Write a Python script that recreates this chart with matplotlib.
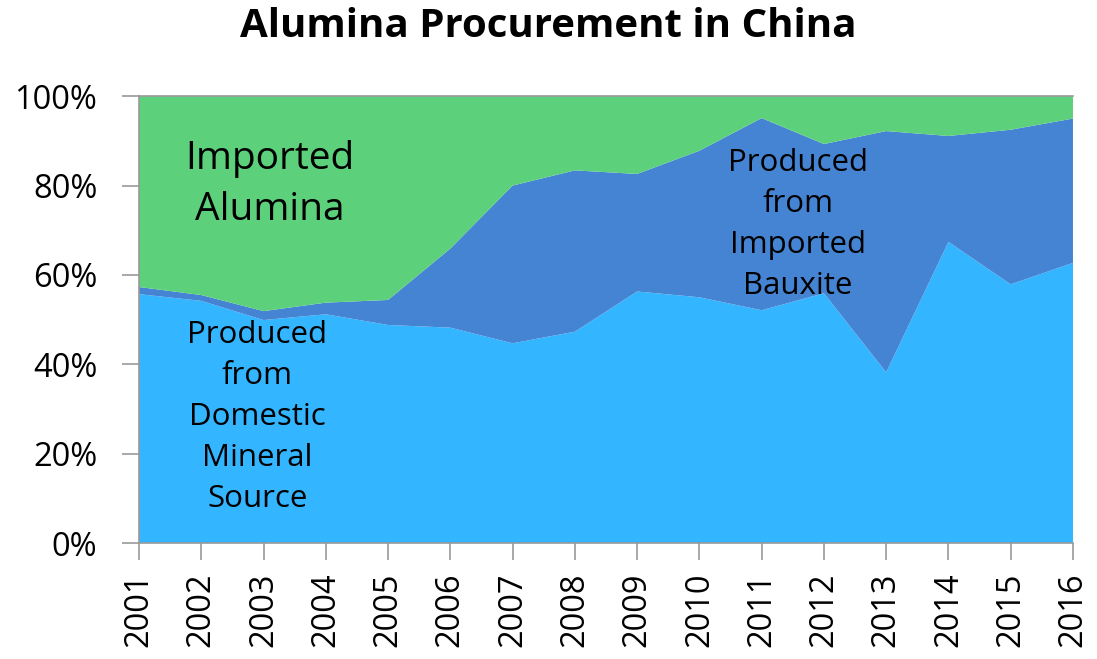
import matplotlib.pyplot as plt
import numpy as np

years = list(range(2001, 2017))
domestic = [55.7, 54.2, 49.9, 51.2, 48.8, 48.2, 44.7, 47.3, 56.3, 55.0, 52.1, 55.9, 38.2, 67.4, 57.9, 62.7]
top_bauxite = [57.3, 55.5, 51.9, 53.8, 54.4, 65.9, 80.0, 83.4, 82.6, 87.8, 95.1, 89.3, 92.2, 91.1, 92.5, 95.0]
imported_bauxite = [t - d for t, d in zip(top_bauxite, domestic)]
imported_alumina = [100 - t for t in top_bauxite]

plt.rcParams['font.family'] = ['Open Sans', 'DejaVu Sans']

fig = plt.figure(figsize=(10.97, 6.59), dpi=100)
ax = fig.add_axes([0.1267, 0.176, 0.8514, 0.678])

ax.stackplot(years, domestic, imported_bauxite, imported_alumina,
             colors=["#33B5FF", "#4584D3", "#5CD07A"], linewidth=0)

ax.set_xlim(2001, 2016)
ax.set_ylim(0, 100)
ax.set_xticks(years)
ax.set_xticklabels([str(y) for y in years], rotation=90, fontsize=23.5)
ax.set_yticks(range(0, 101, 20))
ax.set_yticklabels([f"{v}%" for v in range(0, 101, 20)], fontsize=23.5)
ax.tick_params(axis='both', length=12, color="#999999", width=1.2)
ax.tick_params(axis='x', pad=9)
ax.tick_params(axis='y', pad=18)

for side in ["left", "bottom", "top"]:
    ax.spines[side].set_color("#999999")
    ax.spines[side].set_linewidth(1.2)
ax.spines["right"].set_visible(False)

ax.text(2003.1, 80.2, "Imported\nAlumina", fontsize=28, ha="center", va="center", linespacing=1.45)
ax.text(2002.9, 28.2, "Produced\nfrom\nDomestic\nMineral\nSource", fontsize=22.5, ha="center", va="center", linespacing=1.48)
ax.text(2011.58, 71.3, "Produced\nfrom\nImported\nBauxite", fontsize=22.5, ha="center", va="center", linespacing=1.48)

fig.suptitle("Alumina Procurement in China", fontsize=29, fontweight="bold", y=0.99)

fig.savefig("out.png", dpi=100)
